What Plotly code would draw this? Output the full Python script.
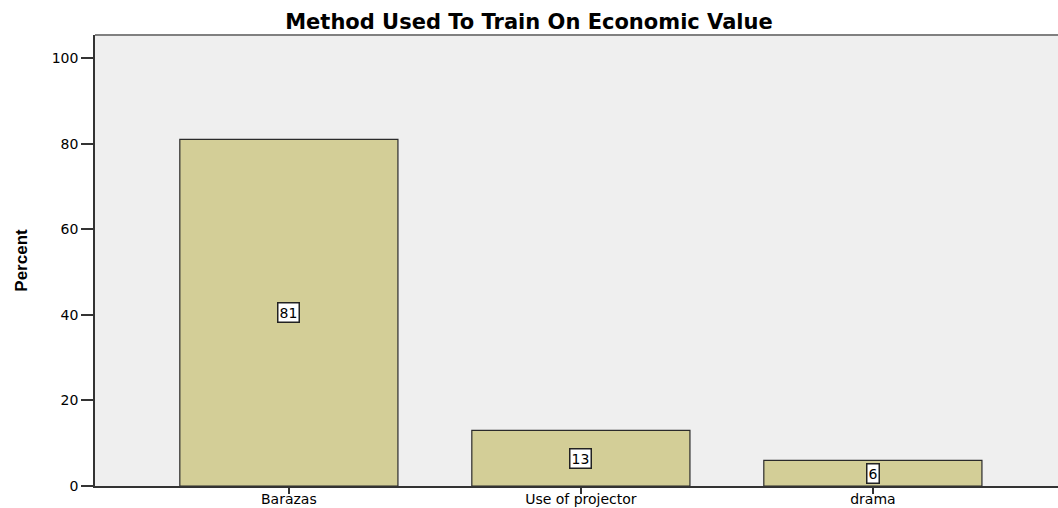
import plotly.graph_objects as go

categories = ["Barazas", "Use of projector", "drama"]
percent = [81, 13, 6]
y_ticks = [0, 20, 40, 60, 80, 100]

WIDE = "DejaVu Sans, Verdana, Arial"

fig = go.Figure()
fig.add_trace(go.Bar(
    x=categories, y=percent, width=0.747,
    marker=dict(color="#D3CE97", line=dict(color="#2b2b2b", width=1.2)),
    hoverinfo="skip",
))
for c, v in zip(categories, percent):
    fig.add_annotation(
        x=c, y=v / 2, text=str(v), showarrow=False,
        font=dict(family=WIDE, size=14, color="black"),
        bgcolor="white", bordercolor="#222", borderwidth=1.5, borderpad=1,
    )

fig.update_layout(
    width=1058, height=508,
    margin=dict(l=95, r=0, t=35, b=22, autoexpand=False),
    paper_bgcolor="white", plot_bgcolor="#EFEFEF",
    showlegend=False,
    title=dict(text="<b>Method Used To Train On Economic Value</b>",
               x=0.5, xanchor="center", y=0.957, yanchor="middle",
               font=dict(family=WIDE, size=21, color="black")),
    font=dict(family=WIDE, size=13, color="black"),
)
fig.update_xaxes(
    range=[-0.664, 2.634], showgrid=False, zeroline=False, automargin=False,
    showline=True, linecolor="#333", linewidth=1.5,
    ticks="outside", ticklen=6, tickcolor="#333", tickwidth=2,
    tickfont=dict(family=WIDE, size=14), ticklabelstandoff=-7,
)
fig.update_yaxes(
    range=[0, 105.4], tickvals=y_ticks, showgrid=False, zeroline=False, automargin=False,
    showline=True, linecolor="#333", linewidth=1.5,
    ticks="outside", ticklen=12, tickcolor="#333", tickwidth=1.5,
    tickfont=dict(family=WIDE, size=14),
    title=dict(text="<b>Percent</b>", font=dict(family="Liberation Sans Narrow, Liberation Sans, Arial", size=17), standoff=20),
)
fig.add_shape(type="line", xref="paper", yref="paper", x0=0, x1=1, y0=1, y1=1,
              line=dict(color="#808080", width=2))

fig.write_html("out.html")
